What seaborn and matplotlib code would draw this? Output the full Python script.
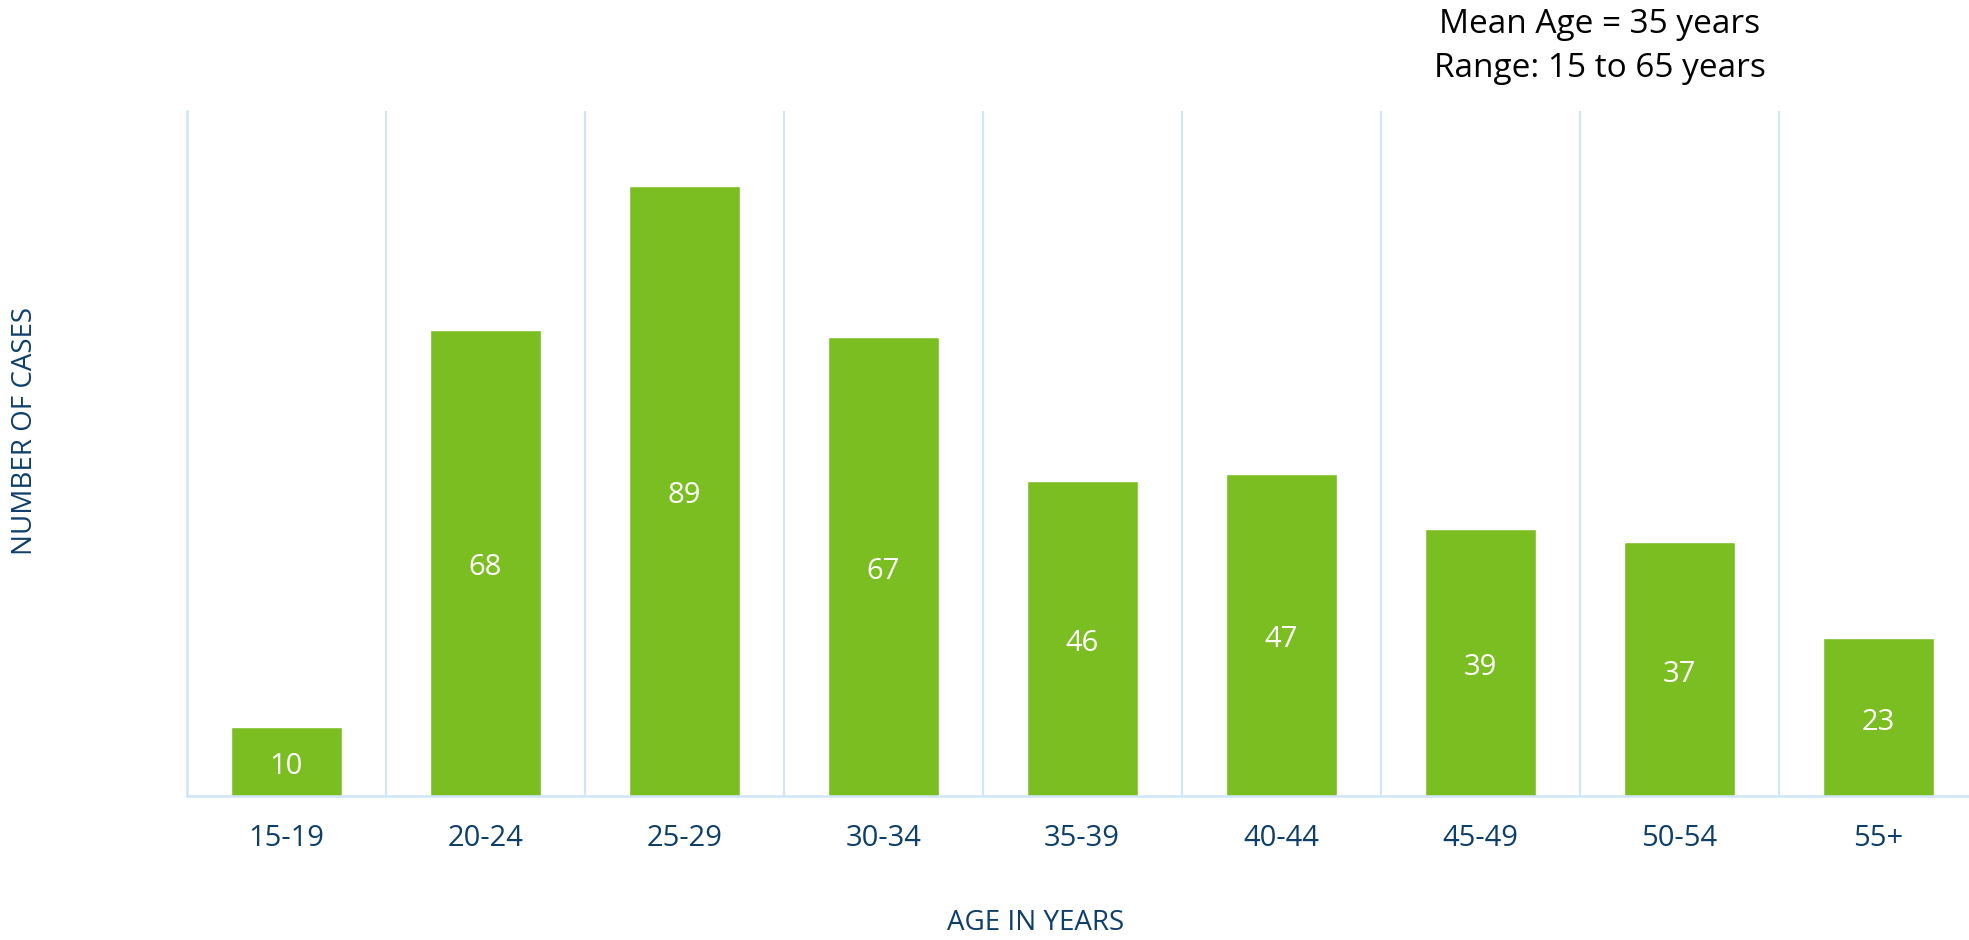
import numpy as np
import pandas as pd
import matplotlib
matplotlib.use("Agg")
import matplotlib.pyplot as plt
import seaborn as sns

# data
age_groups = ["15-19", "20-24", "25-29", "30-34", "35-39", "40-44", "45-49", "50-54", "55+"]
cases = [10, 68, 89, 67, 46, 47, 39, 37, 23]

df = pd.DataFrame({"age": age_groups, "cases": cases})

sns.set_style("white")
plt.rcParams["font.family"] = ["Open Sans", "DejaVu Sans"]

bar_green = "#7BBE22"
grid_blue = "#CFE6F8"
navy = "#0E3F6B"

fig = plt.figure(figsize=(19.69, 9.40), dpi=100)
ax = fig.add_axes([0.0948, 0.1532, 0.9096, 0.7292])

sns.barplot(data=df, x="age", y="cases", color=bar_green, width=0.558,
            saturation=1, ax=ax)

ax.set_ylim(0, 100)
ax.set_xlim(-0.5, len(age_groups) - 0.5)
ax.set_yticks([])

# vertical separators between categories
ax.set_xticks(np.arange(-0.5, len(age_groups)), minor=True)
ax.grid(which="minor", axis="x", color=grid_blue, linewidth=1.5)
ax.set_axisbelow(True)
ax.tick_params(axis="x", which="both", length=0)
ax.tick_params(axis="x", which="major", pad=20, labelsize=21, labelcolor=navy)

for side in ["top", "right"]:
    ax.spines[side].set_visible(False)
for side in ["left", "bottom"]:
    ax.spines[side].set_color(grid_blue)
    ax.spines[side].set_linewidth(1.8)

# value labels in the middle of each bar (nudged down a little)
for cont in ax.containers:
    labels = ax.bar_label(cont, label_type="center", color="white", fontsize=21)
    for t in labels:
        t.set_position((0, -3.5))

ax.set_xlabel("AGE IN YEARS", color=navy, fontsize=20, va="center")
ax.xaxis.set_label_coords(0.474, -0.185)
ax.set_ylabel("NUMBER OF CASES", color=navy, fontsize=20, va="center")
ax.yaxis.set_label_coords(-0.0903, 0.532)

fig.text(0.8125, 0.992, "Mean Age = 35 years\nRange: 15 to 65 years",
         ha="center", va="top", fontsize=24, color="black", linespacing=1.45)

fig.savefig("out.png", dpi=100)
